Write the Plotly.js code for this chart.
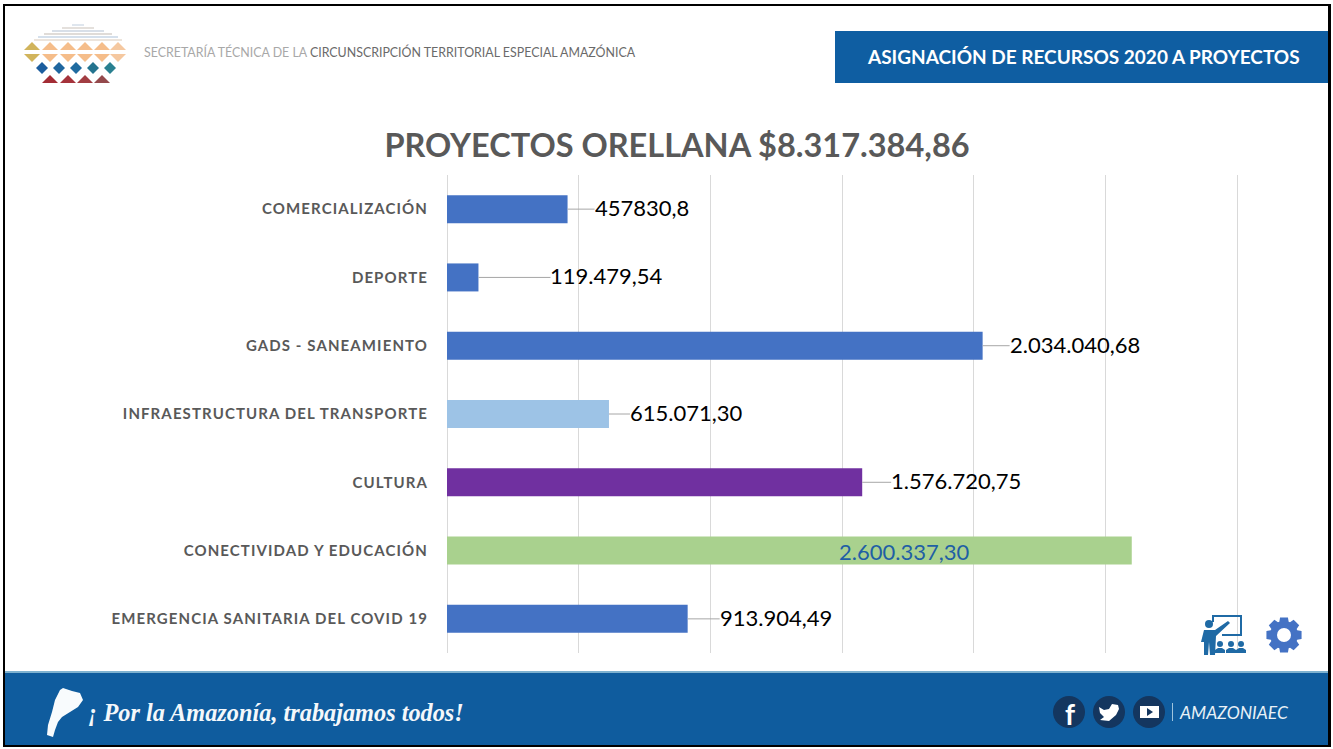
<!DOCTYPE html>
<html>
<head>
<meta charset="utf-8">
<script src="https://cdn.plot.ly/plotly-3.0.1.min.js"></script>
<style>html,body{margin:0;padding:0;background:#fff;overflow:hidden}#chart{width:1333px;height:749px}.ytick text{letter-spacing:1.1px}</style>
</head>
<body>
<div id="chart"></div>
<script>
const categories = ["COMERCIALIZACIÓN","DEPORTE","GADS - SANEAMIENTO","INFRAESTRUCTURA DEL TRANSPORTE","CULTURA","CONECTIVIDAD Y EDUCACIÓN","EMERGENCIA SANITARIA DEL COVID 19"];
const values = [457830.8,119479.54,2034040.68,615071.30,1576720.75,2600337.30,913904.49];
const valueLabels = ["457830,8","119.479,54","2.034.040,68","615.071,30","1.576.720,75","2.600.337,30","913.904,49"];
const barColors = ["#4472c4","#4472c4","#4472c4","#9dc3e6","#7030a0","#a9d18e","#4472c4"];
const leaderLengths = [27,72,27,21,29,0,32];

const W=1333,H=749,L=447,R=1240,T=175,B=653;
const fx=p=>(p-L)/(R-L), fy=p=>(B-p)/(B-T);
const shapes=[],annos=[];
function rect(x0,y0,x1,y1,c,layer){shapes.push({type:'rect',xref:'paper',yref:'paper',x0:fx(x0),x1:fx(x1),y0:fy(y0),y1:fy(y1),fillcolor:c,line:{width:0},layer:layer||'above'});}
function circ(cx,cy,r,c){shapes.push({type:'circle',xref:'paper',yref:'paper',x0:fx(cx-r),x1:fx(cx+r),y0:fy(cy-r),y1:fy(cy+r),fillcolor:c,line:{width:0},layer:'above'});}
function poly(pts,c){shapes.push({type:'path',xref:'paper',yref:'paper',path:'M'+pts.map(p=>fx(p[0])+','+fy(p[1])).join('L')+'Z',fillcolor:c,line:{width:0},layer:'above'});}
function text(t,x,y,size,color,family,anchor){annos.push({text:t,xref:'paper',yref:'paper',x:fx(x),y:fy(y),xanchor:anchor||'left',yanchor:'middle',showarrow:false,font:{size:size,color:color,family:family},borderpad:0});}

// --- header
rect(835,31,1328,83,'#0f5ea2');
text('<b>ASIGNACIÓN DE RECURSOS 2020 A PROYECTOS</b>',866,57,19,'#ffffff','Lato');
text('<span style="color:#a8a8a8">SECRETARÍA TÉCNICA DE LA </span><span style="color:#6a6a6a">CIRCUNSCRIPCIÓN TERRITORIAL ESPECIAL AMAZÓNICA</span>',143,52,12.4,'#777','Lato');

// --- footer
rect(5,672,1328,745,'#0f5c9e');
rect(5,671,1328,673,'#7fb2d0');

// --- frame (white sliver outside it)
rect(3,4,1331,6,'#000');rect(3,745,1331,747,'#000');rect(3,4,5,747,'#000');rect(1328,4,1331,747,'#000');

// --- logo
[[24,72,84,'#dfe6ee'],[27,62,94,'#e4e0dc'],[30,52,104,'#d8dfe8'],[33,44,112,'#e0dcd8'],[36,38,118,'#d5e0ec'],[39,34,122,'#ece4dc']].forEach(s=>rect(s[1],s[0],s[2],s[0]+2,s[3]));
const tx=[32,50,68,85,102,118],tc=['#d1b45c','#f5bd8a','#f5bd8a','#f5bd8a','#f5bd8a','#f5c8a0'];
tx.forEach((x,i)=>{poly([[x-8,50],[x+8,50],[x,42]],tc[i]);poly([[x-8,54],[x+8,54],[x,62]],tc[i]);});
[[42,'#1c5d9e'],[59,'#1f669f'],[76,'#1f6ba0'],[93,'#24748f'],[110,'#2a8090']].forEach(d=>poly([[d[0]-6,68],[d[0],62],[d[0]+6,68],[d[0],74]],d[1]));
[[50,'#a32c35'],[68,'#a5333b'],[85,'#a23d42'],[102,'#94494c']].forEach(d=>poly([[d[0]-8,83],[d[0]+8,83],[d[0],75]],d[1]));

// --- footer map and slogan
poly([[60,690],[63,688],[72,691],[80,693],[83,700],[78,707],[70,712],[62,717],[58,722],[55,730],[53,737],[47,735],[48,725],[52,712],[55,700]],'#f8fbfd');
text('<b><i>¡ Por la Amazonía, trabajamos todos!</i></b>',87,712,24.3,'#f4f8fb','Liberation Serif');

// --- social
[1069,1109,1149].forEach(x=>circ(x,712,16,'#14365f'));
text('<b>f</b>',1070,714,28,'#ffffff','Lato','center');
poly([[1099,707],[1104,710],[1109,709],[1112,704],[1118,705],[1119,709],[1116,715],[1109,721],[1100,720],[1104,717],[1100,713]],'#ffffff');
rect(1140,706,1159,718,'#ffffff');poly([[1147,708],[1153,712],[1147,716]],'#14365f');
rect(1172,703,1173,721,'#9fc4dd');
text('<i>AMAZONIAEC</i>',1178,712,17.5,'#e8f1f7','Lato');

// --- teacher icon
const tc2='#1f6aa5';
rect(1212,615,1242,617,tc2);rect(1240,615,1242,636,tc2);rect(1222,634,1242,636,tc2);rect(1212,615,1214,622,tc2);
circ(1209,624,4,tc2);
poly([[1204,630],[1215,630],[1228,621],[1230,623],[1216,636],[1215,655],[1210,655],[1209,642],[1208,655],[1204,655],[1204,642],[1201,642]],tc2);
[1220,1231,1241].forEach(x=>{circ(x,644,3,tc2);poly([[x-5,653],[x-5,650],[x-2,648],[x+2,648],[x+5,650],[x+5,653]],tc2);});

// --- gear icon
(function(){const cx=1284,cy=635,pts=[];for(let i=0;i<8;i++){const a=i*Math.PI/4-Math.PI/2;[[-.22,18],[.22,18],[.34,14],[.445,14]].forEach(o=>{const b=a+o[0];pts.push([cx+o[1]*Math.cos(b),cy+o[1]*Math.sin(b)]);});}poly(pts,'#4472c4');circ(cx,cy,7,'#ffffff');})();

// --- value labels (leader lines are annotation arrows anchored at each bar's end)
values.forEach((v,i)=>{
  const inside=leaderLengths[i]===0;
  annos.push(inside?{x:v,y:categories[i],xref:'x',yref:'y',text:valueLabels[i],showarrow:false,xanchor:'center',yanchor:'middle',xshift:-228,yshift:-1,font:{size:22,color:'#1f5fa5',family:'Lato'}}
  :{x:v,y:categories[i],xref:'x',yref:'y',text:valueLabels[i],showarrow:true,arrowhead:0,arrowwidth:1,arrowcolor:'#a6a6a6',standoff:0,startstandoff:0,ax:leaderLengths[i],ay:0,axref:'pixel',ayref:'pixel',xanchor:'left',yanchor:'middle',height:30,valign:'top',borderpad:0,borderwidth:0,font:{size:22,color:'#000000',family:'Lato'}});
});

Plotly.newPlot('chart',[{type:'bar',orientation:'h',x:values,y:categories,width:0.41,marker:{color:barColors},hoverinfo:'skip'}],{
  width:W,height:H,paper_bgcolor:'#fff',plot_bgcolor:'#fff',showlegend:false,
  margin:{l:L,r:W-R,t:T,b:H-B,pad:0},
  title:{text:'<b>PROYECTOS ORELLANA $8.317.384,86</b>',x:677/W,xanchor:'center',xref:'container',y:1-146/H,yanchor:'middle',font:{family:'Lato',size:32.5,color:'#595959'}},
  xaxis:{range:[0,3011392],dtick:500000,tick0:0,showticklabels:false,ticks:'',showgrid:true,gridcolor:'#d9d9d9',gridwidth:1,zeroline:true,zerolinecolor:'#d9d9d9',zerolinewidth:1,showline:false},
  yaxis:{type:'category',categoryorder:'array',categoryarray:categories,autorange:'reversed',ticks:'',showgrid:false,zeroline:false,showline:false,ticklabelstandoff:18,tickfont:{family:'Lato',size:15,color:'#595959',weight:700}},
  shapes:shapes,annotations:annos
},{displayModeBar:false,staticPlot:true});
</script>
</body>
</html>
